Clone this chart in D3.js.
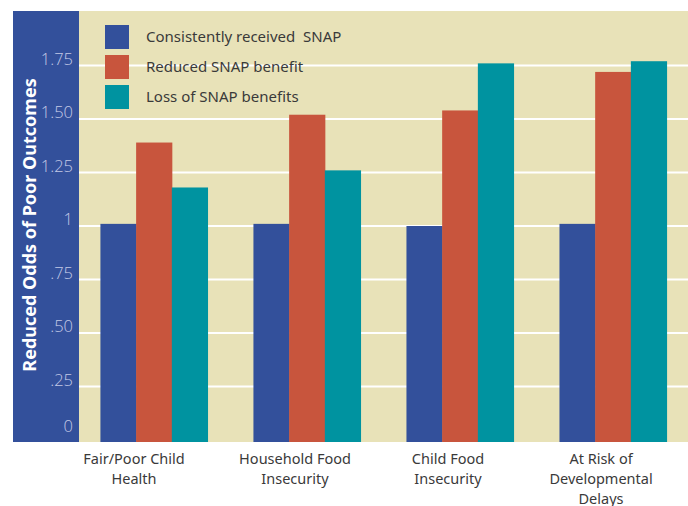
<!DOCTYPE html>
<html>
<head>
<meta charset="utf-8">
<script src="https://cdn.jsdelivr.net/npm/d3@7"></script>
<style>
  body { margin: 0; background: #ffffff; }
  svg { display: block; }
</style>
</head>
<body>
<div id="chartArea"></div>
<script>
// data
var categories = [["Fair/Poor Child", "Health"], ["Household Food", "Insecurity"], ["Child Food", "Insecurity"], ["At Risk of", "Developmental", "Delays"]];
var seriesNames = ["Consistently received  SNAP", "Reduced SNAP benefit", "Loss of SNAP benefits"];
var consistent = [1.01, 1.01, 1.00, 1.01];
var reduced = [1.39, 1.52, 1.54, 1.72];
var loss = [1.18, 1.26, 1.76, 1.77];
var tickValues = [0, 0.25, 0.5, 0.75, 1, 1.25, 1.5, 1.75];
var tickLabels = ["0", ".25", ".50", ".75", "1", "1.25", "1.50", "1.75"];

// constants
const width = 688, height = 506;
const colors = ["#33509b", "#c8553d", "#0093a0"];
const plot = { left: 79, right: 688, top: 11, bottom: 442 };

var svg = d3.select("#chartArea").append("svg")
    .attr("width", width)
    .attr("height", height);

var xScale = d3.scaleBand().domain(d3.range(categories.length))
    .range([plot.left, plot.right]).paddingInner(0.3).paddingOuter(0.14);
var xInner = d3.scaleBand().domain(d3.range(seriesNames.length))
    .range([0, xScale.bandwidth()]);
var yScale = d3.scaleLinear().domain([0, 2]).range([440, 12]);

// backgrounds
svg.append("rect").attr("x", 13).attr("y", plot.top)
    .attr("width", plot.left - 13).attr("height", plot.bottom - plot.top)
    .attr("fill", "#33509b");
svg.append("rect").attr("x", plot.left).attr("y", plot.top)
    .attr("width", plot.right - plot.left).attr("height", plot.bottom - plot.top)
    .attr("fill", "#e8e2b8");

// grid lines
svg.selectAll(".grid").data(tickValues.filter(function (d) { return d > 0; }))
    .enter().append("line")
    .attr("class", "grid")
    .attr("x1", plot.left).attr("x2", plot.right)
    .attr("y1", function (d) { return yScale(d); })
    .attr("y2", function (d) { return yScale(d); })
    .attr("stroke", "#ffffff").attr("stroke-width", 2);

// tick labels
svg.selectAll(".tick-label").data(tickValues)
    .enter().append("text")
    .attr("class", "tick-label")
    .attr("x", 73)
    .attr("y", function (d) { return Math.min(yScale(d) - 1, 432); })
    .attr("text-anchor", "end")
    .style("font-family", "'Open Sans', sans-serif")
    .style("font-weight", 300)
    .style("font-size", "16.5px")
    .style("fill", "#c3c9e6")
    .text(function (d, i) { return tickLabels[i]; });

// y title
svg.append("text")
    .attr("transform", "translate(36,225) rotate(-90)")
    .attr("text-anchor", "middle")
    .style("font-family", "'Noto Sans', sans-serif")
    .style("font-weight", "bold")
    .style("font-size", "18px")
    .style("fill", "#ffffff")
    .text("Reduced Odds of Poor Outcomes");

// bars
var series = [consistent, reduced, loss];
var groups = svg.selectAll(".group").data(categories)
    .enter().append("g")
    .attr("class", "group")
    .attr("transform", function (d, i) { return "translate(" + xScale(i) + ",0)"; });

groups.selectAll("rect")
    .data(function (d, i) { return series.map(function (s, j) { return { s: j, v: s[i] }; }); })
    .enter().append("rect")
    .attr("x", function (d) { return xInner(d.s); })
    .attr("width", xInner.bandwidth() + 0.5)
    .attr("y", function (d) { return yScale(d.v); })
    .attr("height", function (d) { return plot.bottom - yScale(d.v); })
    .attr("fill", function (d) { return colors[d.s]; });

// category labels
groups.each(function (lines, i) {
    var t = d3.select(this).append("text")
        .attr("text-anchor", "middle")
        .style("font-family", "'Noto Sans', sans-serif")
        .style("font-size", "14.5px")
        .style("fill", "#3a3a3a");
    lines.forEach(function (l, k) {
        t.append("tspan")
            .attr("x", xScale.bandwidth() / 2 - (i == 0 ? 20 : 12))
            .attr("y", 464 + k * 20)
            .text(l);
    });
});

// legend
var legend = svg.selectAll(".legend").data(seriesNames)
    .enter().append("g")
    .attr("class", "legend")
    .attr("transform", function (d, i) { return "translate(105," + (25 + i * 30) + ")"; });
legend.append("rect").attr("width", 24).attr("height", 24)
    .attr("fill", function (d, i) { return colors[i]; });
legend.append("text")
    .attr("x", 41).attr("y", 17)
    .style("font-family", "'Noto Sans', sans-serif")
    .style("font-size", "15px")
    .style("fill", "#3a3a3a")
    .style("white-space", "pre")
    .text(function (d) { return d; });
</script>
</body>
</html>
